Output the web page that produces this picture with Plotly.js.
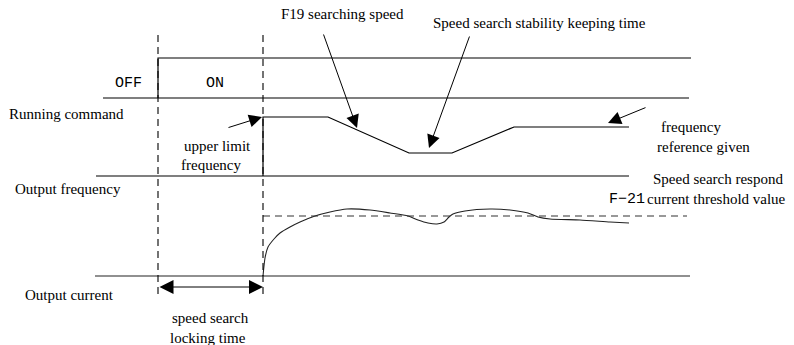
<!DOCTYPE html>
<html><head><meta charset="utf-8">
<script src="https://cdn.plot.ly/plotly-3.0.1.min.js"></script>
<style>html,body{margin:0;padding:0;background:#fff}#c{width:794px;height:345px}</style>
</head><body><div id="c"></div>
<script>
// Timing diagram (time axis in px-like units, level axis downward)
const cmdBaseT = [103, 689];       const cmdBaseL = [98, 98];
const cmdT = [158, 158, 691];      const cmdL = [98, 58, 58];
const freqBaseT = [96, 629];       const freqBaseL = [176, 176];
const freqT = [263, 263, 328, 409, 452, 514, 629];
const freqL = [176, 117, 117, 153, 153, 127, 127];
const curBaseT = [95, 690];        const curBaseL = [276, 276];
const curT = [263, 265, 268, 274, 280, 290, 300, 315, 330, 347, 370, 390, 408, 418, 428, 437, 444, 449, 453, 465, 490, 510, 528, 538, 550, 580, 610, 629];
const curL = [276, 258, 247, 239, 233, 227, 222, 216, 212, 209, 210, 213, 216, 220, 223, 224, 222, 217, 214, 211, 209, 210, 213, 217, 219, 220, 222, 223];
const thrT = [263, 687];           const thrL = [216, 216];
const lockT = [158, 263];          const lockTop = 35;  const lockBottom = 298;

const serif = 'Liberation Serif, Times New Roman, serif';
const mono = 'Liberation Mono, monospace';
const solid = {color: '#000', width: 1.2};
const tr = [
  {x: cmdBaseT, y: cmdBaseL, line: solid},
  {x: cmdT, y: cmdL, line: solid},
  {x: freqBaseT, y: freqBaseL, line: solid},
  {x: freqT, y: freqL, line: solid},
  {x: curBaseT, y: curBaseL, line: {color: '#222', width: 1.2}},
  {x: curT, y: curL, line: {color: '#222', width: 1.1, shape: 'spline', smoothing: 0.6}},
  {x: thrT, y: thrL, line: {color: '#333', width: 1.2, dash: '7px,5px'}},
  {x: [lockT[0], lockT[0]], y: [lockTop, lockBottom], line: {color: '#000', width: 1.1, dash: '7px,5px'}},
  {x: [lockT[1], lockT[1]], y: [lockTop, lockBottom], line: {color: '#000', width: 1.1, dash: '7px,5px'}}
].map(t => Object.assign({type: 'scatter', mode: 'lines', hoverinfo: 'skip', showlegend: false}, t));

function txt(text, x, y, opts) {
  return Object.assign({text: text, x: x, y: y, xref: 'x', yref: 'y', showarrow: false,
    xanchor: 'left', yanchor: 'middle', font: {family: serif, size: 15, color: '#000'}}, opts || {});
}
function arr(tx, ty, hx, hy, opts) {
  return Object.assign({text: '', x: hx, y: hy, ax: tx, ay: ty, xref: 'x', yref: 'y', axref: 'x', ayref: 'y',
    showarrow: true, arrowhead: 2, arrowsize: 2.6, arrowwidth: 1, arrowcolor: '#000', standoff: 0, startstandoff: 0}, opts || {});
}
const ann = [
  txt('F19 searching speed', 279, 14),
  txt('Speed search stability keeping time', 431, 23),
  txt('OFF', 128, 83, {xanchor: 'center', font: {family: mono, size: 15, color: '#000'}}),
  txt('ON', 215, 83, {xanchor: 'center', font: {family: mono, size: 15, color: '#000'}}),
  txt('Running command', 7, 114),
  txt('upper limit', 182, 146),
  txt('frequency', 179, 165),
  txt('frequency', 659, 127),
  txt('reference given', 655, 147),
  txt('Output frequency', 13, 189),
  txt('Speed search respond', 651, 179),
  txt('F\u221221', 607, 199, {font: {family: mono, size: 15, color: '#000'}}),
  txt('current threshold value', 645, 199),
  txt('Output current', 23, 295),
  txt('speed search', 170, 318),
  txt('locking time', 168, 338),
  arr(227, 128, 262, 117),
  arr(323, 33, 357, 128),
  arr(470, 35, 429, 148),
  arr(647, 107, 608, 123),
  arr(lockT[0], 287, lockT[1], 287, {arrowside: 'end+start', arrowsize: 2.8})
];

Plotly.newPlot('c', tr, {
  width: 794, height: 345, margin: {l: 0, r: 0, t: 0, b: 0},
  paper_bgcolor: '#fff', plot_bgcolor: '#fff',
  xaxis: {range: [0, 794], visible: false, fixedrange: true},
  yaxis: {range: [345, 0], visible: false, fixedrange: true},
  annotations: ann
}, {staticPlot: true, displayModeBar: false});
</script></body></html>
